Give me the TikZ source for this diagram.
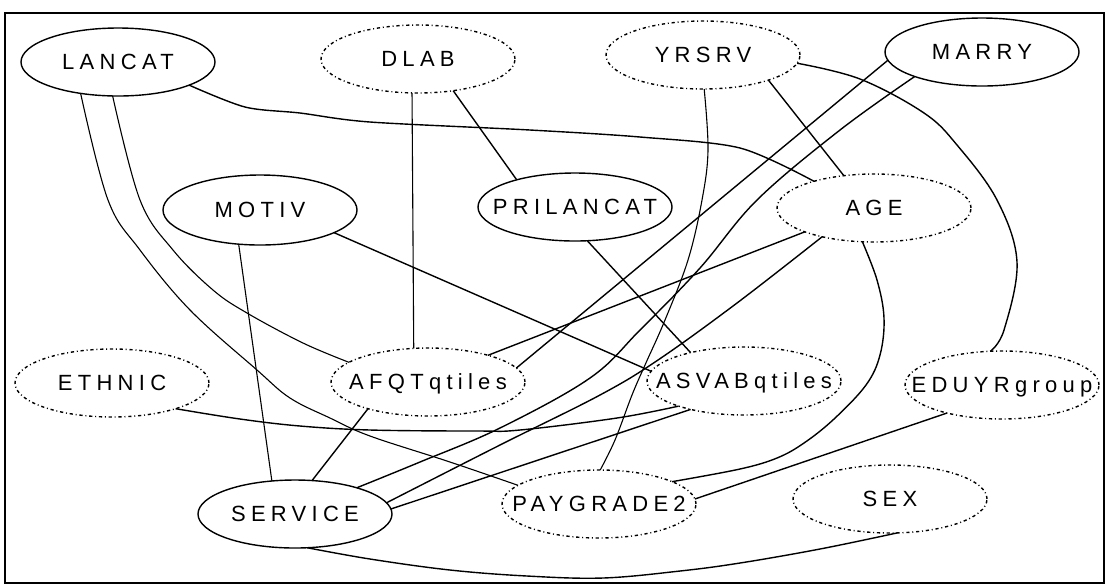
\documentclass[tikz,border=0pt]{standalone}
\usepackage{fontspec}
\usetikzlibrary{shapes.geometric}
\newfontfamily\lblfont[LetterSpace=24]{Liberation Sans}
\newcommand{\vt}[1]{\makebox[0pt][c]{#1}}
\tikzset{
  varnode/.style={ellipse, draw, line width=0.7pt, minimum width=97pt, minimum height=34pt,
    inner sep=0pt, outer sep=0pt, text height=7.9pt, text depth=0pt,
    font=\lblfont\fontsize{11}{13}\selectfont},
  latentnode/.style={varnode, dash pattern=on 1.6pt off 1.4pt on 0.5pt off 1.4pt},
  edge/.style={line width=0.7pt, line join=round},
  thinedge/.style={line width=0.55pt, line join=round},
  frame/.style={line width=0.6pt}
}
\begin{document}
\begin{tikzpicture}[x=0.5pt, y=-0.5pt]
\useasboundingbox (0,0) rectangle (1107,586);
\node[frame, draw, minimum width=549.5pt, minimum height=285pt, inner sep=0pt] (frm) at (554.5,298) {};

\node[varnode]    (lancat) at (118,62)  {\vt{LANCAT}};
\node[latentnode] (dlab)   at (418,59)  {\vt{DLAB}};
\node[latentnode] (yrsrv)  at (703,55)  {\vt{YRSRV}};
\node[varnode]    (marry)  at (982,52)  {\vt{MARRY}};
\node[varnode, minimum height=35pt] (motiv) at (260,210) {\vt{MOTIV}};
\node[varnode]    (pri)    at (575,207) {\vt{PRILANCAT}};
\node[latentnode] (age)    at (874,208) {\vt{AGE}};
\node[latentnode] (ethnic) at (112,383) {\vt{ETHNIC}};
\node[latentnode] (afqt)   at (428,382) {\vt{AFQTqtiles}};
\node[latentnode] (asvab)  at (744,381) {\vt{ASVABqtiles}};
\node[latentnode] (eduyr)  at (1002,385) {\vt{EDUYRgroup}};
\node[varnode]    (service) at (295,514) {\vt{SERVICE}};
\node[latentnode] (pay)    at (599,504) {\vt{PAYGRADE2}};
\node[latentnode] (sex)    at (890,499) {\vt{SEX}};

% LANCAT edges
\draw[edge] plot[smooth, tension=0.5] coordinates {(lancat.-18) (245,107) (300,113) (370,122) (530,130) (640,137) (740,148) (age.156)};
\draw[thinedge] plot[smooth, tension=0.6] coordinates {(lancat.-99) (140,200) (173,250) (213,290) (247,313) (303,343) (afqt.166)};
\draw[thinedge] plot[smooth, tension=0.6] coordinates {(lancat.-140) (108,200) (140,250) (190,310) (257,370) (290,398) (330,418) (370,436) (450,462) (pay.167)};

% DLAB edges
\draw[thinedge] (dlab.-100) -- (afqt.113);
\draw[edge] (dlab.-42) -- (pri.155);

% YRSRV edges
\draw[edge] (yrsrv.-21) -- (age.133);
\draw[thinedge] plot[smooth, tension=0.6] coordinates {(yrsrv.-88) (708,150) (702,200) (688,260) (665,320) (645,365) (632,395) (615,440) (pay.88)};
\draw[edge] plot[smooth, tension=0.6] coordinates {(yrsrv.-5) (860,79) (924,113) (957,145) (997,200) (1017,262) (1004,330) (eduyr.109)};

% MARRY edges
\draw[edge] (marry.-175) -- (afqt.9.5);
\draw[edge] plot[smooth, tension=0.6] coordinates {(marry.-160) (840,130) (757,200) (700,268) (640,330) (590,378) (500,428) (420,462) (service.23)};

% AGE edges
\draw[edge] plot[smooth, tension=0.6] coordinates {(age.-151) (737,303) (658,360) (600,395) (500,445) (service.7.6)};
\draw[edge] (age.-161) -- (afqt.24);
\draw[edge] plot[smooth, tension=0.6] coordinates {(age.-109) (877,280) (884,318) (880,355) (866,385) (834,419) (804,443) (777,458) (740,469) (pay.17)};

% others
\draw[edge] (asvab.-152.6) -- (service.3);
\draw[edge] (motiv.-17) -- (asvab.174);
\draw[thinedge] (motiv.-122) -- (service.125);
\draw[edge] (pri.-70) -- (asvab.152);
\draw[edge] (afqt.-156) -- (service.63);
\draw[edge] plot[smooth, tension=0.6] coordinates {(ethnic.-22.6) (240,419) (300,426) (370,430) (477,431) (520,430) (617,418) (asvab.-159)};
\draw[edge] (eduyr.-153) -- (pay.3);
\draw[edge] plot[smooth, tension=0.6] coordinates {(service.-70) (370,559) (450,570) (527,576) (603,578) (680,571) (740,563) (820,549) (sex.-78)};
\end{tikzpicture}
\end{document}
